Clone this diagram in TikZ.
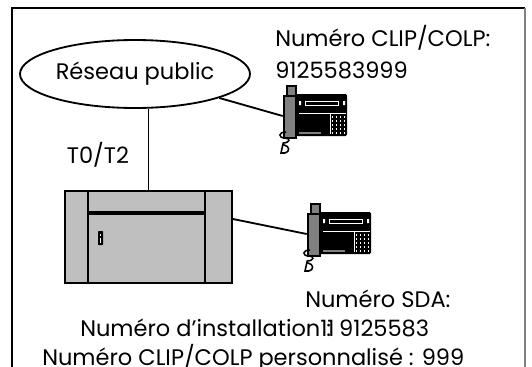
\documentclass[tikz,border=0pt]{standalone}
\usepackage{fontspec}
\setmainfont{Poppins}
\usepackage{tikz}
\usetikzlibrary{shapes.geometric}
\usetikzlibrary{positioning}

\definecolor{boxgray}{HTML}{BFBFBF}
\definecolor{handgray}{HTML}{808080}

% desk telephone, drawn in small units from its top left corner
\tikzset{
  telephone/.pic={
    \begin{scope}[x=0.25mm, y=-0.25mm]
      % handset
      \filldraw[fill=handgray, line width=0.8pt] (9,0) rectangle (18,10);
      \filldraw[fill=handgray, line width=0.8pt] (6,10) rectangle (18,52);
      % body, display and keys
      \fill[black, rounded corners=1pt] (18,8) rectangle (69,50);
      \draw[white, line width=0.4pt] (27,15) rectangle (60,19);
      \fill[white] (21,15) rectangle (23,19) (65,15) rectangle (67,19);
      \draw[white, line width=0.3pt] (21,27) -- (68,27) (52,27) -- (52,48);
      \foreach \i in {55,59,63,67}
        \foreach \j in {31,35,39,43,47}
          \fill[white] (\i-1,\j-0.7) rectangle (\i,\j+0.7);
      \fill[handgray] (21,46) rectangle (43,48);
      % cord
      \draw[line width=1.1pt] (8,46) .. controls (0,46) and (0,52) .. (7,52)
        .. controls (13,52) and (12,57) .. (5,57);
      \draw[line width=1.1pt] (5,58) -- (3,67) -- (7,67)
        .. controls (12,66) and (12,60) .. (6,59) -- cycle;
      \node[inner sep=0, minimum width=16mm, minimum height=13mm] (-set) at (37,30) {};
    \end{scope}
  }
}

\begin{document}
\begin{tikzpicture}[
  every node/.style={font=\fontsize{16}{19}\selectfont},
  txt/.style={anchor=base west, inner sep=0pt},
  wire/.style={line width=1.3pt},
  edge/.style={line width=1.3pt}
]
\useasboundingbox (0,0) rectangle (13.3,-9.175);
% frame, open at the bottom
\draw[line width=1.8pt] (0.3,-9.6) -- (0.3,-0.2) -- (13.125,-0.2);
\draw[line width=0.9pt, gray] (13.125,-0.2) -- (13.125,-9.6);

% network and PBX
\node[ellipse, draw, edge, minimum width=5.75cm, minimum height=1.7cm, inner sep=0] (net) at (3.375,-1.85) {Réseau public};
\node[draw, fill=boxgray, edge, minimum width=4.175cm, minimum height=2.3cm, inner sep=0] (pbx) at (3.7125,-5.925) {};

% PBX front panel
\draw[edge] ([xshift=0.6cm]pbx.north west) -- ([xshift=0.6cm]pbx.south west);
\draw[edge] ([xshift=-0.7cm]pbx.north east) -- ([xshift=-0.7cm]pbx.south east);
\draw[line width=2.6pt] ([xshift=0.6cm,yshift=-0.575cm]pbx.north west) -- ([xshift=-0.7cm,yshift=-0.575cm]pbx.north east);
\fill[rounded corners=0.5pt] ([xshift=0.85cm,yshift=-1.025cm]pbx.north west) rectangle ([xshift=0.975cm,yshift=-1.375cm]pbx.north west);
\fill[white] ([xshift=0.9cm,yshift=-1.1cm]pbx.north west) rectangle ([xshift=0.925cm,yshift=-1.15cm]pbx.north west);
\fill[white] ([xshift=0.9cm,yshift=-1.2cm]pbx.north west) rectangle ([xshift=0.925cm,yshift=-1.32cm]pbx.north west);

% telephones
\pic (phoneA) at (6.95,-2.15) {telephone};
\pic (phoneB) at (7.55,-5.1) {telephone};

% lines
\draw[wire] (pbx.north) -- (net.south -| pbx.north);
\draw[wire] (net) -- (phoneA-set.west);
\draw[wire] ([yshift=0.45cm]pbx.east) -- (phoneB-set.west);

% numbers
\node[txt] (cliplabel) at (6.875,-1.15) {Numéro CLIP/COLP:};
\node[txt] (clipnum) at (6.875,-1.95) {9125583999};
\node[anchor=base, inner sep=0pt] (trunk) at (2.45,-4.075) {T0/T2};
\node[txt] (sdalabel) at (7.625,-7.675) {Numéro SDA:};
\node[txt] (instnum) at (2.0,-8.4) {Numéro d’installation : 9125583};
\node[txt] (sdanum) at (8.0,-8.4) {11};
\node[txt] (custnum) at (1.05,-9.125) {Numéro CLIP/COLP personnalisé : 999};
\end{tikzpicture}
\end{document}
